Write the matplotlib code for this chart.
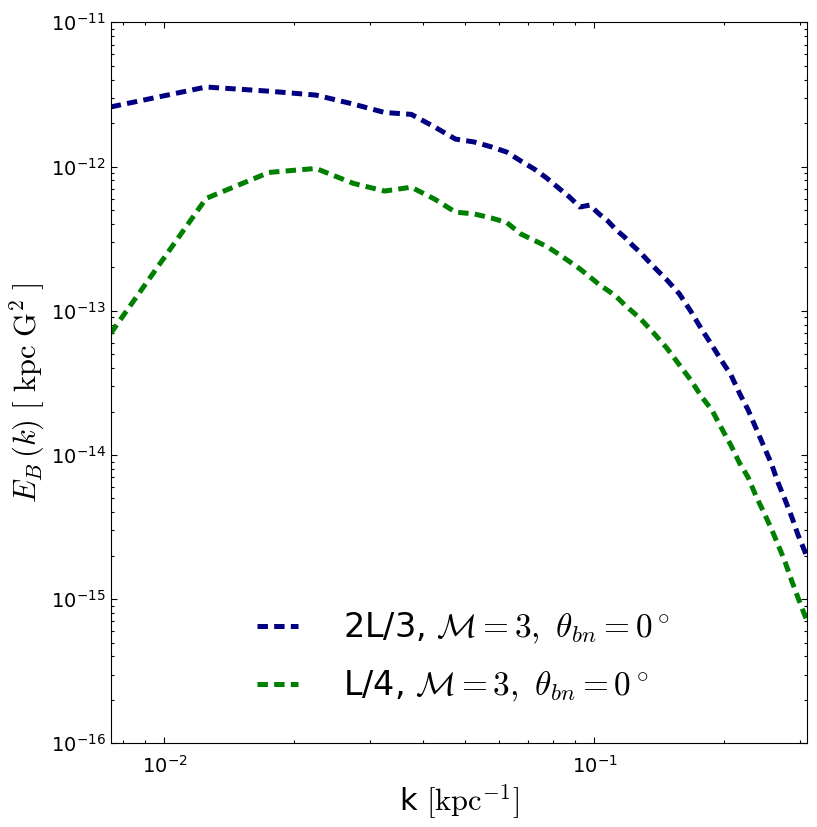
import matplotlib
matplotlib.use("Agg")
import matplotlib.pyplot as plt

# wavenumber bins [1/kpc]
k = [0.0075, 0.0125, 0.0175, 0.0225, 0.0275, 0.0325, 0.0375, 0.0425,
     0.0475, 0.0525, 0.0575, 0.0625, 0.0675, 0.0725, 0.0775, 0.0825,
     0.0875, 0.0925, 0.0975, 0.1025, 0.1075, 0.1125, 0.1175, 0.1225,
     0.1275, 0.1375, 0.1475, 0.1575, 0.1675, 0.1775, 0.1875, 0.1975,
     0.2075, 0.2175, 0.2275, 0.2375, 0.2475, 0.2575, 0.2675, 0.2775,
     0.2875, 0.2975, 0.3075, 0.3125]

# magnetic energy spectrum, 2L/3 run
eb_2l3 = [2.59e-12, 3.56e-12, 3.33e-12, 3.13e-12, 2.71e-12, 2.37e-12,
          2.30e-12, 1.88e-12, 1.55e-12, 1.48e-12, 1.37e-12, 1.26e-12,
          1.09e-12, 9.59e-13, 8.30e-13, 7.10e-13, 6.14e-13, 5.24e-13,
          5.40e-13, 4.69e-13, 4.18e-13, 3.62e-13, 3.24e-13, 2.85e-13,
          2.55e-13, 2.01e-13, 1.63e-13, 1.31e-13, 9.91e-14, 7.43e-14,
          5.78e-14, 4.50e-14, 3.60e-14, 2.67e-14, 2.06e-14, 1.53e-14,
          1.15e-14, 8.79e-15, 6.37e-15, 4.88e-15, 3.72e-15, 2.78e-15,
          2.19e-15, 1.93e-15]

# magnetic energy spectrum, L/4 run
eb_l4 = [6.97e-14, 6.01e-13, 9.10e-13, 9.70e-13, 7.64e-13, 6.76e-13,
         7.19e-13, 5.94e-13, 4.83e-13, 4.69e-13, 4.40e-13, 4.09e-13,
         3.40e-13, 3.07e-13, 2.79e-13, 2.47e-13, 2.19e-13, 1.95e-13,
         1.72e-13, 1.52e-13, 1.38e-13, 1.25e-13, 1.10e-13, 9.86e-14,
         8.89e-14, 6.97e-14, 5.48e-14, 4.22e-14, 3.30e-14, 2.53e-14,
         2.05e-14, 1.53e-14, 1.17e-14, 8.77e-15, 7.01e-15, 5.18e-15,
         4.01e-15, 3.10e-15, 2.37e-15, 1.81e-15, 1.34e-15, 1.02e-15,
         7.89e-16, 6.97e-16]

labels = [r"2L/3, $\mathcal{M}=3,\ \theta_{bn}=0^\circ$",
          r"L/4, $\mathcal{M}=3,\ \theta_{bn}=0^\circ$"]

plt.rcParams["mathtext.fontset"] = "cm"
plt.rcParams["lines.scale_dashes"] = False

fig = plt.figure(figsize=(8.17, 8.27), dpi=100)
ax = fig.add_axes([0.1355, 0.1012, 0.8526, 0.8718])

ax.plot(k, eb_2l3, color="#000080", lw=3.6, dashes=(7.5, 4.5), label=labels[0])
ax.plot(k, eb_l4, color="#008000", lw=3.6, dashes=(7.5, 4.5), label=labels[1])

ax.set_xscale("log")
ax.set_yscale("log")
ax.set_xlim(0.0075, 0.3125)
ax.set_ylim(1e-16, 1e-11)

ax.tick_params(which="both", direction="in", top=True, right=True, labelsize=14)
ax.tick_params(which="major", length=4, width=0.8)
ax.tick_params(which="minor", length=2, width=0.8)
ax.tick_params(axis="x", pad=8)

ax.set_xlabel(r"k $[\mathrm{kpc}^{-1}]$", fontsize=22)
ax.set_ylabel(r"$E_B\,(k)\ [\ \mathrm{kpc\ G^2}\ ]$", fontsize=22)
ax.yaxis.set_label_coords(-0.092, 0.486)

ax.legend(loc="center", bbox_to_anchor=(0.506, 0.119), frameon=False,
          fontsize=24, handlelength=1.25, handletextpad=1.35, labelspacing=0.68)

fig.savefig("out.png", dpi=100, facecolor="white")
